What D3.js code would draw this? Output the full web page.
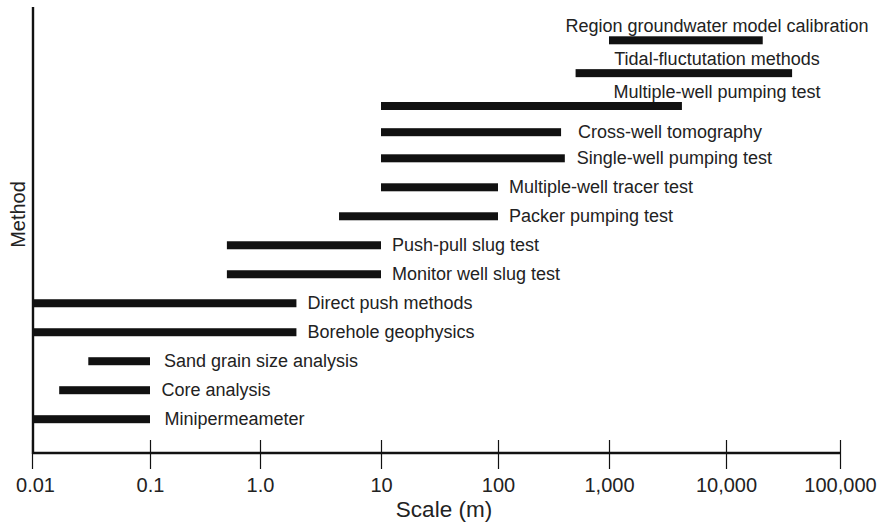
<!DOCTYPE html>
<html>
<head>
<meta charset="utf-8">
<script src="https://cdn.jsdelivr.net/npm/d3@7/dist/d3.min.js"></script>
<style>
  html, body { margin: 0; padding: 0; background: #fff; }
  svg { display: block; }
  text { font-family: "Liberation Sans", Arial, Helvetica, sans-serif; fill: #222; }
</style>
</head>
<body>
<svg id="chart" width="878" height="525"></svg>
<script>
// ---- Data (scale of investigation, metres) ----
const methods = [
  "Region groundwater model calibration",
  "Tidal-fluctutation methods",
  "Multiple-well pumping test",
  "Cross-well tomography",
  "Single-well pumping test",
  "Multiple-well tracer test",
  "Packer pumping test",
  "Push-pull slug test",
  "Monitor well slug test",
  "Direct push methods",
  "Borehole geophysics",
  "Sand grain size analysis",
  "Core analysis",
  "Minipermeameter"
];
const scaleMin = [1000, 500, 10, 10, 10, 10, 4.5, 0.5, 0.5, 0.01, 0.01, 0.03, 0.017, 0.01];
const scaleMax = [21000, 38000, 4200, 370, 400, 100, 100, 10, 10, 2, 2, 0.1, 0.1, 0.1];
const tickValues = [0.01, 0.1, 1, 10, 100, 1000, 10000, 100000];
const tickLabels = ["0.01", "0.1", "1.0", "10", "100", "1,000", "10,000", "100,000"];
const xTitle = "Scale (m)";
const yTitle = "Method";

// ---- Layout ----
const svg = d3.select("#chart");
const axisY = 453;
const yAxisX = 33;

// piecewise log scale (decades in the original are drawn with slightly uneven widths)
const x = d3.scaleLog()
  .domain(tickValues)
  .range([32, 150, 260, 381, 498, 609, 726, 840]);

// row index -> vertical centre (top rows are spaced a little wider, to leave room for labels above)
const yIdx = d3.scaleLinear()
  .domain([0, 2, 3, 4, methods.length - 1])
  .range([40.3, 106, 132.2, 158.3, 419.2]);
const y = name => yIdx(methods.indexOf(name));

const rows = methods.map((m, i) => ({ name: m, lo: scaleMin[i], hi: scaleMax[i], i }));

// bars
svg.append("g").selectAll("rect")
  .data(rows)
  .join("rect")
  .attr("x", d => x(d.lo))
  .attr("y", d => y(d.name) - 4)
  .attr("width", d => x(d.hi) - x(d.lo))
  .attr("height", 8)
  .attr("fill", "#111");

// labels
const aboveCount = 3;          // first rows carry their label above the bar
const aboveCenterX = 717;
const gapOverride = { "Cross-well tomography": 17, "Single-well pumping test": 12,
  "Sand grain size analysis": 14, "Minipermeameter": 14.5, "Core analysis": 11.5 };
svg.append("g").selectAll("text")
  .data(rows)
  .join("text")
  .attr("font-size", 18)
  .attr("x", d => d.i < aboveCount ? aboveCenterX : x(d.hi) + (gapOverride[d.name] || 11))
  .attr("y", d => d.i < aboveCount ? y(d.name) - 8 : y(d.name) + 6)
  .attr("text-anchor", d => d.i < aboveCount ? "middle" : "start")
  .text(d => d.name);

// x axis
const xAxis = d3.axisBottom(x)
  .tickValues(tickValues)
  .tickFormat((d, i) => tickLabels[i])
  .tickSizeInner(16)
  .tickSizeOuter(0);

const gx = svg.append("g")
  .attr("transform", `translate(0,${axisY})`)
  .call(xAxis);
gx.select(".domain").remove();
gx.selectAll(".tick line")
  .attr("y1", -13)
  .attr("y2", 16)
  .attr("stroke", "#111")
  .attr("stroke-width", 1.2);
gx.selectAll(".tick text")
  .attr("y", 39)
  .attr("dy", 0)
  .attr("font-size", 20)
  .attr("font-family", "Liberation Sans, Arial, sans-serif")
  .attr("fill", "#222")
  .attr("dx", (d, i) => i === 0 ? 3 : 0);

// axis lines
svg.append("line")
  .attr("x1", x(tickValues[0])).attr("x2", x(tickValues[tickValues.length - 1]))
  .attr("y1", axisY).attr("y2", axisY)
  .attr("stroke", "#111").attr("stroke-width", 2.4);
svg.append("line")
  .attr("x1", yAxisX).attr("x2", yAxisX)
  .attr("y1", 7).attr("y2", axisY + 1)
  .attr("stroke", "#111").attr("stroke-width", 2.4);

// titles
svg.append("text")
  .attr("x", 444).attr("y", 517)
  .attr("text-anchor", "middle")
  .attr("font-size", 22.5)
  .text(xTitle);

svg.append("text")
  .attr("transform", "translate(25,214.5) rotate(-90)")
  .attr("text-anchor", "middle")
  .attr("font-size", 20)
  .text(yTitle);
</script>
</body>
</html>
